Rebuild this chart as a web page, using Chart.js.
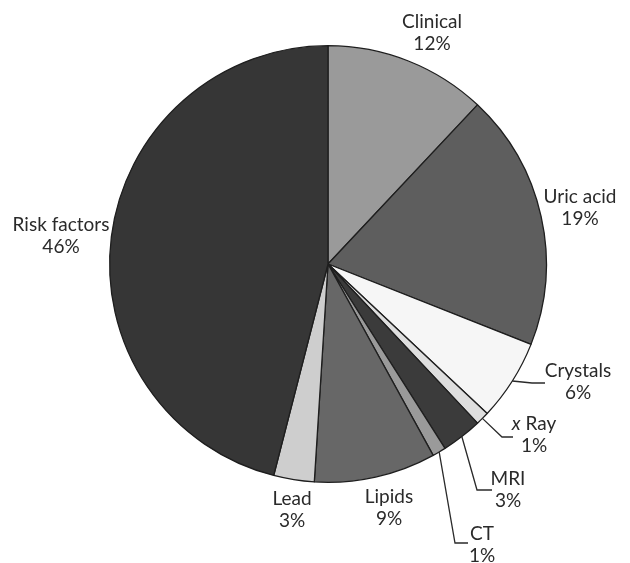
<!DOCTYPE html>
<html>
<head>
<meta charset="utf-8">
<script src="https://cdn.jsdelivr.net/npm/chart.js@4"></script>
<style>
  html, body { margin: 0; padding: 0; background: #fff; }
  canvas { display: block; }
</style>
</head>
<body>
<canvas id="pieChart" width="630" height="563"></canvas>
<script>
// chart values, clockwise from 12 o'clock
const categories = ["Clinical", "Uric acid", "Crystals", "x Ray", "MRI", "CT", "Lipids", "Lead", "Risk factors"]
const percentages = [12, 19, 6, 1, 3, 1, 9, 3, 46]

const sliceColors = ["#9a9a9a", "#5e5e5e", "#f6f6f6", "#dedede", "#3b3b3b", "#9a9a9a", "#676767", "#cecece", "#363636"]

// where each label goes (baseline of first line), and leader line bends if any
const labelLayout = [
    {x: 432, y: 28},
    {x: 580, y: 203},
    {x: 578, y: 377, leader: [[532, 383], [545, 383]]},
    {x: 534, y: 430, leader: [[502, 437], [513, 437]]},
    {x: 508, y: 485, leader: [[477, 490], [492, 490]]},
    {x: 482, y: 540, leader: [[455, 543], [468, 543]]},
    {x: 389, y: 503},
    {x: 292, y: 505},
    {x: 61, y: 231}
]

const FONT = "Lato, 'DejaVu Sans', sans-serif"
const FONT_SIZE = 19
const LINE_GAP = 22

function drawName(ctx, name, cx, y) {
    if (name == "x Ray") {
        // the x is set in italics
        ctx.font = "italic " + FONT_SIZE + "px " + FONT
        var w1 = ctx.measureText("x").width
        ctx.font = FONT_SIZE + "px " + FONT
        var w2 = ctx.measureText(" Ray").width
        var left = cx - (w1 + w2) / 2
        ctx.textAlign = "left"
        ctx.font = "italic " + FONT_SIZE + "px " + FONT
        ctx.fillText("x", left, y)
        ctx.font = FONT_SIZE + "px " + FONT
        ctx.fillText(" Ray", left + w1, y)
        ctx.textAlign = "center"
    } else {
        ctx.fillText(name, cx, y)
    }
}

const pieLabels = {
    id: "pieLabels",
    afterDraw(chart) {
        const ctx = chart.ctx
        const meta = chart.getDatasetMeta(0)
        ctx.save()
        ctx.fillStyle = "#2a2a2a"
        ctx.strokeStyle = "#2a2a2a"
        ctx.lineWidth = 1.3
        ctx.textAlign = "center"
        ctx.textBaseline = "alphabetic"
        ctx.font = FONT_SIZE + "px " + FONT

        meta.data.forEach((arc, i) => {
            const p = arc.getProps(["x", "y", "startAngle", "endAngle", "outerRadius"], true)
            const lay = labelLayout[i]
            if (lay.leader) {
                const mid = (p.startAngle + p.endAngle) / 2
                ctx.beginPath()
                ctx.moveTo(p.x + Math.cos(mid) * p.outerRadius, p.y + Math.sin(mid) * p.outerRadius)
                lay.leader.forEach(pt => ctx.lineTo(pt[0], pt[1]))
                ctx.stroke()
            }
            drawName(ctx, categories[i], lay.x, lay.y)
            ctx.fillText(percentages[i] + "%", lay.x, lay.y + LINE_GAP)
        })
        ctx.restore()
    }
}

new Chart(document.getElementById("pieChart"), {
    type: "pie",
    data: {
        labels: categories,
        datasets: [{
            data: percentages,
            backgroundColor: sliceColors,
            borderColor: "#1e1e1e",
            borderWidth: 1.3
        }]
    },
    options: {
        responsive: false,
        animation: false,
        layout: {
            padding: {top: 45, bottom: 80, left: 109, right: 83}
        },
        plugins: {
            legend: {display: false},
            tooltip: {enabled: false}
        }
    },
    plugins: [pieLabels]
})
</script>
</body>
</html>
